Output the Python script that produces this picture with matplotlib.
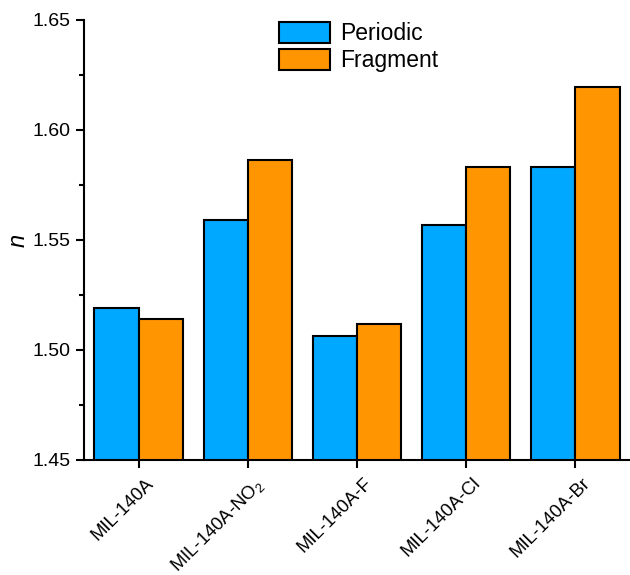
import matplotlib
matplotlib.use('Agg')
import matplotlib.pyplot as plt
import matplotlib.transforms as mtransforms
from matplotlib.ticker import MultipleLocator
import numpy as np

plt.rcParams['font.family'] = ['Liberation Sans', 'DejaVu Sans']
plt.rcParams['mathtext.fontset'] = 'custom'
plt.rcParams['mathtext.rm'] = 'Liberation Sans'
plt.rcParams['mathtext.it'] = 'Liberation Sans:italic'

# data
categories = ['MIL-140A', 'MIL-140A-NO$_2$', 'MIL-140A-F', 'MIL-140A-Cl', 'MIL-140A-Br']
periodic = [1.519, 1.559, 1.5065, 1.557, 1.583]
fragment = [1.514, 1.5865, 1.512, 1.583, 1.6195]

blue = '#00A8FF'
orange = '#FF9500'

fig = plt.figure(figsize=(6.3, 5.75), dpi=100)
ax = fig.add_axes([84/630, 1 - 460/575, 546/630, 440/575])

x = np.arange(len(categories))
w = 0.405
ax.bar(x - w/2, periodic, w, color=blue, edgecolor='black', linewidth=1.5, label='Periodic')
ax.bar(x + w/2, fragment, w, color=orange, edgecolor='black', linewidth=1.5, label='Fragment')

ax.set_xlim(-0.5, 4.5)
ax.set_ylim(1.45, 1.65)
ax.yaxis.set_major_locator(MultipleLocator(0.05))
ax.yaxis.set_minor_locator(MultipleLocator(0.025))
ax.yaxis.set_major_formatter(matplotlib.ticker.FormatStrFormatter('%.2f'))
ax.set_xticks(x)

for s in ['top', 'right']:
    ax.spines[s].set_visible(False)
for s in ['left', 'bottom']:
    ax.spines[s].set_linewidth(1.5)

ax.tick_params(axis='both', which='major', direction='out', length=6, width=1.5)
ax.tick_params(axis='y', which='major', labelsize=14)
ax.tick_params(axis='y', which='minor', direction='out', length=3.5, width=1.5)
ax.tick_params(axis='x', which='major', pad=4.5)

ax.set_xticklabels(categories, rotation=45, ha='right', rotation_mode='anchor', fontsize=13.3)
# nudge rotated labels a bit to the right like the original
shift = mtransforms.ScaledTranslation(6/100, 0, fig.dpi_scale_trans)
for lab in ax.get_xticklabels():
    lab.set_transform(lab.get_transform() + shift)

ax.set_ylabel('n', fontsize=17, style='italic', labelpad=2)

ax.legend(loc='upper left', bbox_to_anchor=(0.357, 0.996), frameon=False, fontsize=16.5,
          handlelength=2.25, handleheight=1.05, handletextpad=0.4, labelspacing=0.15,
          borderaxespad=0, borderpad=0)

fig.savefig('out.png', dpi=100)
